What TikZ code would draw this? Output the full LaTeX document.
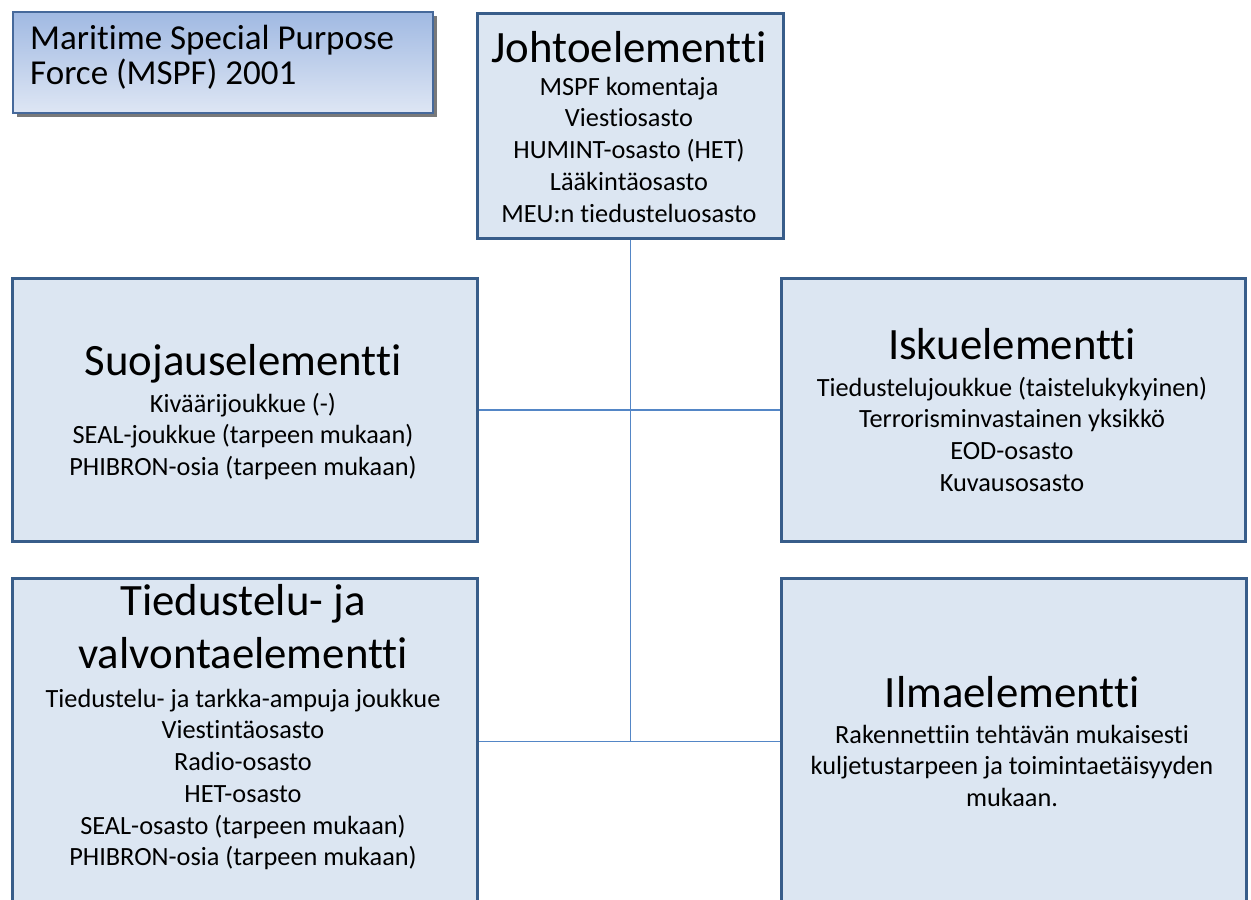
\documentclass[tikz,border=0pt]{standalone}
\usepackage{fontspec}
\setmainfont{Carlito}[Ligatures={NoCommon}]
\usetikzlibrary{shadows}
\definecolor{boxfill}{RGB}{220,230,242}
\definecolor{boxline}{RGB}{56,93,138}
\definecolor{conn}{RGB}{84,134,198}
\definecolor{gradtop}{RGB}{160,185,226}
\definecolor{gradbot}{RGB}{222,230,244}
\definecolor{titleline}{RGB}{70,105,155}
\newcommand\hstrut{\rule{0pt}{40pt}}
\newcommand\bstrut{\rule{0pt}{22pt}}
\pgfdeclarelayer{bg}
\pgfsetlayers{bg,main}
\tikzset{
  orgbox/.style={draw=boxline, line width=3pt, fill=boxfill, rectangle, inner sep=0pt, anchor=north west},
  headtxt/.style={anchor=north, inner sep=0pt, align=center, font=\fontsize{44.8}{53}\selectfont, text=black},
  bodytxt/.style={anchor=north, inner sep=0pt, align=center, font=\fontsize{26.3}{31.7}\selectfont, text=black},
  connector/.style={draw=conn, line width=1.8pt},
  titlebox/.style={draw=titleline, line width=1.5pt, top color=gradtop, bottom color=gradbot, rectangle, inner sep=0pt, anchor=north west,
    drop shadow={shadow xshift=4pt, shadow yshift=-4pt, fill=black!75, opacity=0.7}},
  titletxt/.style={anchor=north west, inner sep=0pt, align=left, font=\fontsize{35}{35}\selectfont, text=black}
}
\begin{document}
\begin{tikzpicture}[x=1pt,y=-1pt]
\useasboundingbox (0,0) rectangle (1251,900);
\clip (0,0) rectangle (1251,900);
% boxes
\node[titlebox, minimum width=420pt, minimum height=101pt] (title) at (12,11) {};
\node[titletxt] (titleT) at (30,49-28) {\rule{0pt}{28pt}Maritime Special Purpose\\Force (MSPF) 2001};

\node[orgbox, minimum width=306pt, minimum height=225pt] (johto) at (476,12) {};
\node[orgbox, minimum width=465pt, minimum height=263pt] (suoja) at (11,277) {};
\node[orgbox, minimum width=464pt, minimum height=263pt] (isku) at (780,277) {};
\node[orgbox, minimum width=465pt, minimum height=326pt] (tied) at (11,577) {};
\node[orgbox, minimum width=465pt, minimum height=326pt] (ilma) at (780,577) {};

% texts
\node[headtxt] (johtoH) at (629,62-40) {\hstrut Johtoelementti};
\node[bodytxt] (johtoB) at (629,95-22) {\bstrut MSPF komentaja\\Viestiosasto\\HUMINT-osasto (HET)\\Lääkintäosasto\\MEU:n tiedusteluosasto};

\node[headtxt] (suojaH) at (243,375-40) {\hstrut Suojauselementti};
\node[bodytxt] (suojaB) at (243,412-22) {\bstrut Kiväärijoukkue (-)\\SEAL-joukkue (tarpeen mukaan)\\PHIBRON-osia (tarpeen mukaan)};

\node[headtxt] (iskuH) at (1012,359-40) {\hstrut Iskuelementti};
\node[bodytxt] (iskuB) at (1012,396-22) {\bstrut Tiedustelujoukkue (taistelukykyinen)\\Terrorisminvastainen yksikkö\\EOD-osasto\\Kuvausosasto};

\node[headtxt] (tiedH) at (243,615-40) {\hstrut Tiedustelu- ja\\valvontaelementti};
\node[bodytxt] (tiedB) at (243,707-22) {\bstrut Tiedustelu- ja tarkka-ampuja joukkue\\Viestintäosasto\\Radio-osasto\\HET-osasto\\SEAL-osasto (tarpeen mukaan)\\PHIBRON-osia (tarpeen mukaan)};

\node[headtxt] (ilmaH) at (1012,707-40) {\hstrut Ilmaelementti};
\node[bodytxt] (ilmaB) at (1012,743-22) {\bstrut Rakennettiin tehtävän mukaisesti\\kuljetustarpeen ja toimintaetäisyyden\\mukaan.};

% connectors
\begin{pgfonlayer}{bg}
\coordinate (junction) at (johto.south |- tied.east);
\draw[connector] (johto.south) -- (junction);
\draw[connector] (suoja.east) -- (isku.west);
\draw[connector] (tied.east) -- (ilma.west);
\end{pgfonlayer}
\end{tikzpicture}
\end{document}
